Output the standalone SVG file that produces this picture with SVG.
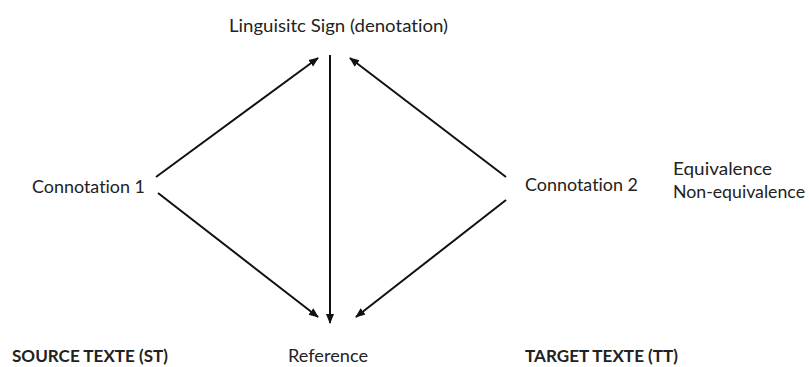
<svg xmlns="http://www.w3.org/2000/svg" width="809" height="367" viewBox="0 0 809 367">
<style>
text{font-family:Lato,"Open Sans","Liberation Sans",sans-serif;font-size:17.5px;fill:#222;font-variant-ligatures:none}
.b{font-weight:bold}
.c{stroke:#111;stroke-width:2;fill:none;marker-end:url(#ah)}
</style>
<defs>
<marker id="ah" viewBox="0 0 10 10" refX="9" refY="5" markerWidth="5" markerHeight="5" orient="auto" markerUnits="strokeWidth">
<path d="M0,1 L10,5 L0,9 z" fill="#111"/>
</marker>
</defs>
<rect width="809" height="367" fill="#fff"/>
<g id="connectors">
<line class="c" x1="156" y1="177" x2="318" y2="58"/>
<line class="c" x1="330" y1="55" x2="330" y2="323"/>
<line class="c" x1="158" y1="193" x2="318" y2="317"/>
<line class="c" x1="506" y1="177" x2="350" y2="58"/>
<line class="c" x1="506" y1="200" x2="356" y2="317"/>
</g>
<g id="sign"><text x="229" y="32" textLength="219" lengthAdjust="spacingAndGlyphs">Linguisitc Sign (denotation)</text></g>
<g id="connotation1"><text x="32" y="193" textLength="113" lengthAdjust="spacingAndGlyphs">Connotation 1</text></g>
<g id="connotation2"><text x="525" y="191" textLength="113" lengthAdjust="spacingAndGlyphs">Connotation 2</text></g>
<g id="equivalence"><text x="673" y="175" textLength="99" lengthAdjust="spacingAndGlyphs">Equivalence</text><text x="673" y="198" textLength="132" lengthAdjust="spacingAndGlyphs">Non-equivalence</text></g>
<g id="source"><text class="b" x="12" y="362" textLength="156" lengthAdjust="spacingAndGlyphs">SOURCE TEXTE (ST)</text></g>
<g id="reference"><text x="288" y="362" textLength="80" lengthAdjust="spacingAndGlyphs">Reference</text></g>
<g id="target"><text class="b" x="525" y="362" textLength="153" lengthAdjust="spacingAndGlyphs">TARGET TEXTE (TT)</text></g>
</svg>
